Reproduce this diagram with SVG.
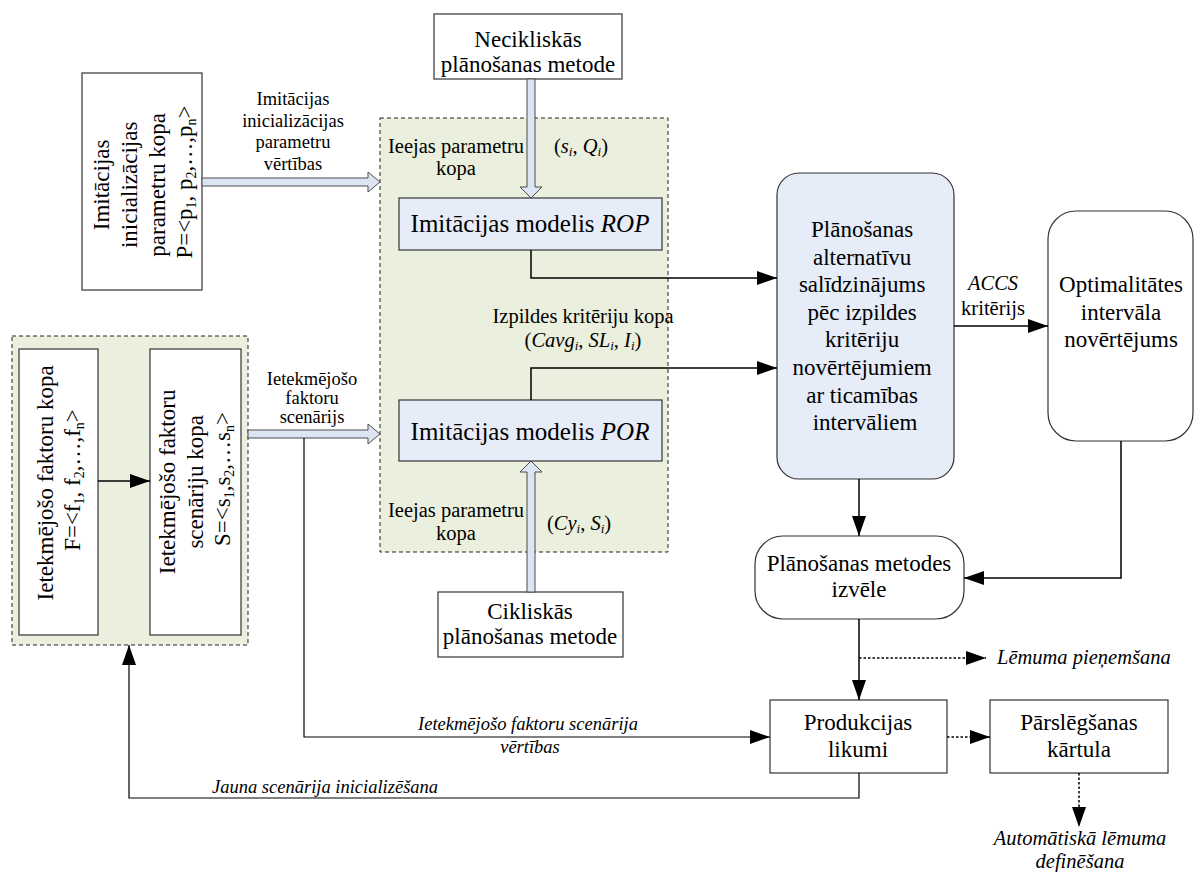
<svg xmlns="http://www.w3.org/2000/svg" width="1196" height="872" viewBox="0 0 1196 872">
  <defs>
    <marker id="ah" markerUnits="userSpaceOnUse" markerWidth="20" markerHeight="14" refX="20" refY="7" orient="auto">
      <path d="M0,0 L20,7 L0,14 Z" fill="#000"/>
    </marker>
  </defs>
  <style>
    text { font-family: "Liberation Serif", "Times New Roman", serif; fill: #000; }
    .n { font-size: 23px; text-anchor: middle; }
    .m { font-size: 25px; text-anchor: middle; }
    .r { font-size: 23px; text-anchor: middle; }
    .l { font-size: 20.5px; }
    .s { font-size: 18.5px; }
    .i { font-style: italic; }
    .c { text-anchor: middle; }
    .sub { font-size: 14px; }
    .sub2 { font-size: 13px; }
    .box { fill: #fff; stroke: #333; stroke-width: 1.2; }
    .blue { fill: #e6ecf8; stroke: #333; stroke-width: 1.2; }
    .grp { fill: #ebefdd; stroke: #222; stroke-width: 1; stroke-dasharray: 4 3; }
    .hollow { fill: #dde5f3; stroke: #4a4a4a; stroke-width: 1; }
    .wire { fill: none; stroke: #000; stroke-width: 1.5; }
    .arr { marker-end: url(#ah); }
    .dot { stroke-dasharray: 2.5 2; }
  </style>

  <rect x="0" y="0" width="1196" height="872" fill="#fff"/>

  <!-- containers -->
  <g id="model-group">
    <rect class="grp" x="380" y="118" width="288" height="434"/>
  </g>
  <g id="factor-group">
    <rect class="grp" x="12" y="336" width="236" height="309"/>
  </g>

  <!-- nodes -->
  <g id="init-params">
    <rect class="box" x="82" y="73" width="120" height="217"/>
    <text class="r" transform="translate(0,182) rotate(-90)">
      <tspan x="0" y="109">Imitācijas</tspan>
      <tspan x="0" y="137">inicializācijas</tspan>
      <tspan x="0" y="165">parametru kopa</tspan>
      <tspan x="0" y="192">P=&lt;p<tspan class="sub" dy="4">1</tspan><tspan dy="-4">, p</tspan><tspan class="sub" dy="4">2</tspan><tspan dy="-4">,…,p</tspan><tspan class="sub" dy="4">n</tspan><tspan dy="-4">&gt;</tspan></tspan>
    </text>
  </g>

  <g id="factor-set">
    <rect class="box" x="19" y="349" width="79" height="286"/>
    <text class="r" transform="translate(0,480) rotate(-90)">
      <tspan x="0" y="53">Ietekmējošo faktoru kopa</tspan>
      <tspan x="0" y="80">F=&lt;f<tspan class="sub" dy="4">1</tspan><tspan dy="-4">, f</tspan><tspan class="sub" dy="4">2</tspan><tspan dy="-4">,…,f</tspan><tspan class="sub" dy="4">n</tspan><tspan dy="-4">&gt;</tspan></tspan>
    </text>
  </g>

  <g id="scenario-set">
    <rect class="box" x="150" y="349" width="91" height="286"/>
    <text class="r" transform="translate(0,479) rotate(-90)">
      <tspan x="0" y="175">Ietekmējošo faktoru</tspan>
      <tspan x="0" y="203">scenāriju kopa</tspan>
      <tspan x="0" y="230">S=&lt;s<tspan class="sub" dy="4">1</tspan><tspan dy="-4">,s</tspan><tspan class="sub" dy="4">2</tspan><tspan dy="-4">,…s</tspan><tspan class="sub" dy="4">n</tspan><tspan dy="-4">&gt;</tspan></tspan>
    </text>
  </g>

  <g id="noncyclic-method">
    <rect class="box" x="434" y="14" width="188" height="65"/>
    <text class="n"><tspan x="528" y="47">Necikliskās</tspan><tspan x="528" y="72">plānošanas metode</tspan></text>
  </g>

  <g id="model-rop">
    <rect class="blue" x="399" y="198" width="263" height="52"/>
    <text class="m" x="530" y="232">Imitācijas modelis <tspan class="i">ROP</tspan></text>
  </g>

  <g id="model-por">
    <rect class="blue" x="399" y="400" width="263" height="61"/>
    <text class="m" x="530" y="440">Imitācijas modelis <tspan class="i">POR</tspan></text>
  </g>

  <g id="cyclic-method">
    <rect class="box" x="438" y="592" width="185" height="65"/>
    <text class="n"><tspan x="530" y="619">Cikliskās</tspan><tspan x="530" y="644">plānošanas metode</tspan></text>
  </g>

  <g id="comparison">
    <rect class="blue" x="777" y="173" width="177" height="306" rx="22" ry="22"/>
    <text class="n">
      <tspan x="865" y="237">Plānošanas</tspan>
      <tspan x="865" y="264.6">alternatīvu</tspan>
      <tspan x="865" y="292.2">salīdzinājums</tspan>
      <tspan x="865" y="319.8">pēc izpildes</tspan>
      <tspan x="865" y="347.4">kritēriju</tspan>
      <tspan x="865" y="375">novērtējumiem</tspan>
      <tspan x="865" y="402.6">ar ticamības</tspan>
      <tspan x="865" y="430.2">intervāliem</tspan>
    </text>
  </g>

  <g id="optimality">
    <rect class="box" x="1048" y="211" width="145" height="230" rx="28" ry="28"/>
    <text class="n"><tspan x="1121" y="292">Optimalitātes</tspan><tspan x="1121" y="319.5">intervāla</tspan><tspan x="1121" y="347">novērtējums</tspan></text>
  </g>

  <g id="method-choice">
    <rect class="box" x="755" y="536" width="209" height="83" rx="28" ry="28"/>
    <text class="n"><tspan x="859" y="571">Plānošanas metodes</tspan><tspan x="859" y="597">izvēle</tspan></text>
  </g>

  <g id="production-rules">
    <rect class="box" x="770" y="700" width="177" height="73"/>
    <text class="n"><tspan x="858" y="730">Produkcijas</tspan><tspan x="858" y="757">likumi</tspan></text>
  </g>

  <g id="switching-rule">
    <rect class="box" x="990" y="700" width="178" height="73"/>
    <text class="n"><tspan x="1079" y="730">Pārslēgšanas</tspan><tspan x="1079" y="757">kārtula</tspan></text>
  </g>

  <!-- connectors -->
  <g id="connectors">
    <!-- hollow data arrows -->
    <polygon class="hollow" points="202,178 368,178 368,172 380,182 368,192 368,186 202,186"/>
    <polygon class="hollow" points="248,430 368,430 368,424 380,434 368,444 368,438 248,438"/>
    <polygon class="hollow" points="527,79 535,79 535,187 542,187 531,198 520,187 527,187"/>
    <polygon class="hollow" points="527,592 527,472 520,472 531,461 542,472 535,472 535,592"/>

    <!-- solid flows -->
    <polyline class="wire arr" points="531,250 531,278 777,278"/>
    <polyline class="wire arr" points="531,400 531,368 777,368"/>
    <line class="wire arr" x1="954" y1="326" x2="1048" y2="326"/>
    <line class="wire arr" x1="859" y1="479" x2="859" y2="536"/>
    <polyline class="wire arr" points="1121,441 1121,578 964,578"/>
    <line class="wire arr" x1="859" y1="619" x2="859" y2="700"/>
    <line class="wire arr" x1="98" y1="481" x2="150" y2="481"/>
    <polyline class="wire arr" points="304,438 304,737 770,737" style="stroke-width:1.2"/>
    <polyline class="wire arr" points="859,773 859,798 129,798 129,645" style="stroke-width:1.2"/>

    <!-- dotted outcomes -->
    <line class="wire arr dot" x1="859" y1="658" x2="986" y2="658"/>
    <line class="wire arr dot" x1="947" y1="737" x2="990" y2="737"/>
    <line class="wire arr dot" x1="1079" y1="773" x2="1079" y2="827"/>
  </g>

  <!-- labels -->
  <g id="labels">
    <text class="s c"><tspan x="293" y="105">Imitācijas</tspan><tspan x="293" y="126.5">inicializācijas</tspan><tspan x="293" y="148">parametru</tspan><tspan x="293" y="169.5">vērtības</tspan></text>
    <text class="s c"><tspan x="312" y="385">Ietekmējošo</tspan><tspan x="312" y="404">faktoru</tspan><tspan x="312" y="423">scenārijs</tspan></text>

    <text class="l c"><tspan x="456" y="153">Ieejas parametru</tspan><tspan x="456" y="175">kopa</tspan></text>
    <text class="l c" x="581" y="153">(<tspan class="i">s</tspan><tspan class="i sub2" dy="3">i</tspan><tspan dy="-3">, </tspan><tspan class="i">Q</tspan><tspan class="i sub2" dy="3">i</tspan><tspan dy="-3">)</tspan></text>

    <text class="l c" x="583" y="323">Izpildes kritēriju kopa</text>
    <text class="l c" x="583" y="347">(<tspan class="i">Cavg</tspan><tspan class="i sub2" dy="3">i</tspan><tspan dy="-3">, </tspan><tspan class="i">SL</tspan><tspan class="i sub2" dy="3">i</tspan><tspan dy="-3">, </tspan><tspan class="i">I</tspan><tspan class="i sub2" dy="3">i</tspan><tspan dy="-3">)</tspan></text>

    <text class="l c"><tspan x="456" y="517">Ieejas parametru</tspan><tspan x="456" y="540">kopa</tspan></text>
    <text class="l c" x="579" y="530">(<tspan class="i">Cy</tspan><tspan class="i sub2" dy="3">i</tspan><tspan dy="-3">, </tspan><tspan class="i">S</tspan><tspan class="i sub2" dy="3">i</tspan><tspan dy="-3">)</tspan></text>

    <text class="l c"><tspan class="i" x="993" y="290">ACCS</tspan><tspan x="993" y="315">kritērijs</tspan></text>

    <text class="l i" x="997" y="664">Lēmuma pieņemšana</text>
    <text class="l i c"><tspan x="1080" y="845">Automātiskā lēmuma</tspan><tspan x="1080" y="868">definēšana</tspan></text>

    <text class="s i c" x="528" y="730">Ietekmējošo faktoru scenārija</text>
    <text class="s i c" x="530" y="753">vērtības</text>
    <text class="s i" x="212" y="793">Jauna scenārija inicializēšana</text>
  </g>
</svg>
